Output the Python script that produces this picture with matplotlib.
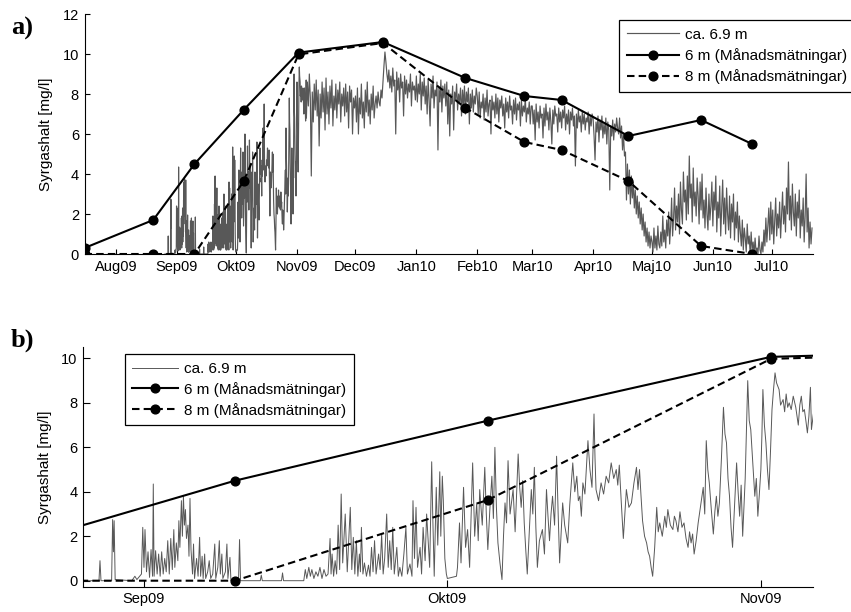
import numpy as np
import matplotlib
matplotlib.use("Agg")
import matplotlib.pyplot as plt
import matplotlib.dates as mdates

plt.rcParams['font.family'] = ['Liberation Sans', 'DejaVu Sans']

# ---- monthly profile samples (6 m and 8 m depth) ----
meas_dates = ['2009-07-16', '2009-08-20', '2009-09-10', '2009-10-05', '2009-11-02',
              '2009-12-15', '2010-01-26', '2010-02-25', '2010-03-16', '2010-04-19',
              '2010-05-26', '2010-06-21']
o2_6m = [0.3, 1.7, 4.5, 7.2, 10.07, 10.6, 8.8, 7.9, 7.7, 5.9, 6.7, 5.5]
o2_8m = [0.0, 0.0, 0.0, 3.63, 9.98, 10.55, 7.3, 5.6, 5.2, 3.65, 0.4, 0.0]

# ---- logger at ca. 6.9 m, irregular samples, days since 2009-09-01 ----
t_aug_sep = [
    -6.0, -4.45, -4.35, -4.25, -3.2, -3.1, -3.02, -2.95, -2.85, -1.2,
    -0.9, -0.7, -0.25, -0.12, 0.0, 0.1, 0.25, 0.4, 0.55, 0.7,
    0.85, 0.92, 1.0, 1.15, 1.3, 1.45, 1.6, 1.75, 1.9, 2.05,
    2.2, 2.35, 2.5, 2.65, 2.8, 2.95, 3.05, 3.2, 3.35, 3.45,
    3.55, 3.7, 3.8, 3.9, 4.0, 4.1, 4.2, 4.35, 4.45, 4.55,
    4.65, 4.8, 4.9, 5.0, 5.2, 5.35, 5.5, 5.6, 5.75, 5.85,
    6.0, 6.1, 6.3, 6.45, 6.6, 6.8, 7.0, 7.1, 7.3, 7.45,
    7.55, 7.7, 7.8, 8.05, 8.2, 8.3, 8.5, 8.6, 9.35, 9.45,
    9.55, 11.5, 11.6, 11.7, 13.6, 13.7, 13.8, 15.8, 15.95, 16.1,
    16.3, 16.45, 16.6, 16.8, 17.0, 17.2, 17.4, 17.6, 17.8, 18.0,
    18.2, 18.4, 18.5, 18.6, 18.75, 18.9, 19.05, 19.2, 19.35, 19.5,
    19.65, 19.9, 20.0, 20.1, 20.4, 20.55, 20.7, 20.85, 21.0, 21.15,
    21.3, 21.4, 21.5, 21.65, 21.8, 22.0, 22.2, 22.35, 22.5, 22.65,
    22.8, 22.95, 23.2, 23.35, 23.5, 23.65, 23.8, 24.0, 24.15, 24.3,
    24.45, 24.6, 24.75, 25.0, 25.15, 25.3, 25.5, 25.7, 25.9, 26.05,
    26.3, 26.5, 26.6, 26.75, 26.9, 27.05, 27.3, 27.45, 27.6, 27.8,
    27.95, 28.1, 28.25, 28.45, 28.55, 28.7, 28.9, 29.05, 29.25, 29.35,
    29.5, 29.6, 29.75, 29.9]
o2_aug_sep = [
    0.0, 0.0, 0.9, 0.0, 0.0, 2.75, 1.3, 2.7, 0.05, 0.0,
    0.2, 0.05, 0.3, 2.4, 0.6, 2.3, 0.4, 1.3, 0.15, 1.4,
    0.2, 4.35, 0.2, 1.35, 0.3, 1.2, 0.2, 1.3, 0.3, 1.0,
    0.4, 1.8, 0.3, 1.9, 0.5, 2.3, 0.6, 1.7, 0.9, 2.7,
    1.5, 3.6, 2.0, 3.8, 2.5, 3.2, 1.9, 2.5, 1.1, 3.7,
    1.4, 0.3, 1.65, 0.1, 1.0, 0.2, 1.95, 0.2, 1.1, 0.1,
    1.2, 0.1, 0.4, 0.9, 0.1, 0.3, 1.65, 0.1, 0.6, 1.8,
    0.3, 1.2, 0.1, 0.4, 1.65, 0.1, 1.05, 0.0, 0.0, 1.85,
    0.0, 0.0, 0.25, 0.0, 0.0, 0.35, 0.0, 0.0, 0.5, 0.1,
    0.6, 0.2, 0.5, 0.1, 0.4, 0.2, 0.6, 0.1, 0.5, 0.2,
    0.3, 1.9, 0.3, 1.2, 0.2, 0.9, 0.3, 2.5, 0.5, 3.9,
    0.8, 3.0, 1.65, 0.4, 3.3, 0.5, 1.95, 0.3, 1.8, 0.2,
    1.2, 0.4, 2.4, 0.3, 0.8, 0.2, 0.7, 0.2, 1.5, 0.4,
    1.8, 0.3, 1.2, 0.5, 2.1, 0.3, 1.0, 3.0, 0.6, 1.8,
    0.5, 2.4, 0.3, 1.5, 0.2, 0.6, 0.2, 1.2, 2.4, 0.3,
    0.75, 0.2, 3.6, 1.0, 3.3, 0.6, 1.5, 0.3, 2.4, 0.9,
    3.0, 1.8, 0.6, 5.35, 3.0, 0.2, 4.2, 1.6, 4.9, 2.0,
    4.7, 3.6, 1.0, 0.3]

t_okt_nov = [
    30.0, 30.9, 31.0, 31.2, 31.35, 31.6, 31.8, 32.0, 32.2, 32.5,
    32.7, 32.9, 33.05, 33.2, 33.45, 33.7, 33.85, 34.0, 34.2, 34.4,
    34.55, 34.7, 34.85, 35.0, 35.2, 35.4, 35.55, 35.7, 35.85, 36.0,
    36.2, 36.5, 36.7, 37.0, 37.15, 37.3, 37.45, 37.6, 37.75, 37.9,
    38.1, 38.3, 38.45, 38.6, 38.75, 38.9, 39.1, 39.4, 39.6, 39.8,
    39.95, 40.1, 40.25, 40.4, 40.6, 40.8, 40.95, 41.1, 41.25, 41.4,
    41.6, 41.9, 42.1, 42.4, 42.6, 42.8, 42.95, 43.1, 43.25, 43.4,
    43.6, 43.9, 44.1, 44.3, 44.5, 44.6, 44.7, 44.95, 45.2, 45.45,
    45.7, 45.95, 46.2, 46.45, 46.7, 46.85, 47.0, 47.2, 47.4, 47.55,
    47.7, 47.95, 48.2, 48.45, 48.7, 48.85, 49.0, 49.15, 49.3, 49.5,
    49.7, 49.85, 50.0, 50.15, 50.3, 50.5, 50.7, 50.85, 51.0, 51.25,
    51.5, 51.65, 51.8, 52.05, 52.3, 52.45, 52.6, 52.8, 53.0, 53.2,
    53.4, 53.6, 53.8, 53.95, 54.1, 54.25, 54.4, 54.6, 54.8, 55.05,
    55.3, 55.45, 55.6, 55.75, 55.9, 56.1, 56.3, 56.45, 56.6, 56.75,
    56.9, 57.1, 57.3, 57.45, 57.6, 57.75, 57.9, 58.05, 58.2, 58.4,
    58.6, 58.75, 58.9, 59.05, 59.2, 59.45, 59.7, 59.85, 60.0, 60.2,
    60.4, 60.55, 60.7, 60.85, 61.0, 61.1, 61.2, 61.35, 61.5, 61.65,
    61.8, 61.95, 62.1, 62.25, 62.4, 62.55, 62.8, 62.95, 63.2, 63.35,
    63.5, 63.65, 63.8, 64.0, 64.2, 64.45, 64.7, 64.85, 65.0, 65.15,
    65.3, 65.45, 65.6, 65.75, 65.9, 66.0]
o2_okt_nov = [
    0.1, 0.2, 0.6, 2.6, 0.8, 4.2, 1.5, 2.3, 0.6, 5.3,
    2.0, 3.5, 1.8, 4.1, 2.5, 5.1, 3.0, 1.4, 3.2, 4.7,
    2.8, 6.0, 3.3, 1.7, 0.8, 0.05, 2.0, 3.5, 2.6, 5.4,
    3.0, 4.1, 2.2, 5.7, 4.2, 3.3, 4.5, 2.6, 1.4, 0.3,
    2.2, 4.1, 3.0, 5.1, 2.4, 0.6, 1.8, 2.3, 1.2, 4.1,
    2.9, 1.8, 3.0, 3.8, 2.5, 5.6, 3.1, 0.8, 2.2, 3.5,
    2.5, 1.7, 3.4, 5.3, 4.0, 4.7, 3.6, 3.8, 2.9, 4.4,
    3.9, 6.3, 5.0, 4.2, 7.5, 5.5, 4.1, 3.6, 4.4, 3.9,
    4.7, 4.4, 5.3, 4.6, 5.0, 4.3, 5.2, 3.5, 1.9, 3.0,
    4.1, 3.3, 3.5, 4.4, 5.1, 4.1, 5.0, 3.8, 2.7, 2.0,
    1.7, 1.3, 1.1, 0.6, 0.2, 1.5, 3.3, 2.2, 2.6, 2.0,
    2.9, 2.4, 3.2, 2.5, 2.3, 2.9, 2.7, 2.2, 3.1, 2.4,
    2.6, 1.9, 1.5, 2.2, 1.7, 2.1, 1.2, 1.8, 2.6, 3.4,
    4.2, 3.0, 6.3, 5.0, 4.4, 3.2, 2.1, 3.1, 3.8, 2.9,
    3.5, 5.5, 7.8, 6.6, 6.2, 4.6, 3.8, 2.4, 1.5, 3.4,
    5.3, 4.0, 2.9, 4.3, 2.0, 4.6, 9.0, 7.2, 6.8, 5.3,
    3.8, 4.6, 2.9, 3.9, 5.0, 6.5, 8.6, 7.0, 6.2, 5.0,
    4.1, 5.8, 7.7, 8.6, 9.35, 8.9, 8.6, 7.9, 8.15, 7.6,
    8.4, 7.8, 8.0, 7.7, 8.3, 7.8, 7.0, 7.9, 8.3, 7.6,
    7.7, 7.2, 6.65, 7.4, 8.7, 6.8]

# ---- logger, twice-daily values from 2009-11-06 12:00 onwards ----
o2_nov = [8.6, 7.4, 9.0, 7.8, 3.9, 8.1, 6.6, 8.5, 7.2, 8.7, 6.9, 8.2, 5.4, 8.0, 6.8, 8.6,
          7.1, 8.3, 6.2, 8.8, 7.0, 8.1, 6.5, 8.4, 7.3, 8.7, 6.4, 7.9, 7.2, 8.5, 6.8, 8.2,
          7.5, 8.6, 6.6, 8.0, 7.4, 8.3, 6.9, 8.5, 7.1, 8.1, 6.3, 8.4, 7.6, 8.2, 6.0, 7.8, 7.3]
o2_dec = [7.9, 6.6, 8.3, 6.0, 7.8, 7.0, 8.5, 6.8, 7.6, 6.3, 8.2, 7.1, 8.6, 6.9, 7.7, 6.5,
          8.0, 7.2, 8.4, 6.8, 7.5, 7.9, 7.3, 8.1, 7.6, 7.4, 8.2, 7.8, 8.6, 9.4, 10.1, 9.6,
          9.0, 8.6, 9.2, 8.3, 8.9, 8.1, 9.3, 8.4, 8.7, 6.0, 9.1, 8.2, 8.8, 7.6, 9.0, 8.3,
          8.6, 6.9, 8.9, 8.0, 8.7, 7.8, 8.5, 8.1, 9.0, 7.4, 8.6, 8.2, 8.4, 7.7]
o2_jan = [8.9, 7.6, 8.5, 8.0, 9.0, 7.2, 8.6, 7.9, 8.8, 7.5, 8.4, 7.0, 8.7, 7.7, 6.4, 8.5,
          7.8, 8.9, 7.3, 8.2, 7.9, 8.6, 5.2, 8.3, 7.6, 8.7, 7.1, 8.4, 7.8, 8.5, 7.4, 8.6,
          6.5, 8.2, 5.9, 8.0, 7.5, 8.4, 6.2, 8.1, 7.7, 8.5, 7.2, 8.0, 7.6, 8.3, 6.9, 8.2,
          7.4, 8.4, 7.0, 8.1, 7.6, 8.3, 6.5, 8.0, 7.3, 8.2, 7.1, 7.9, 7.5, 8.3]
o2_feb = [7.9, 7.0, 8.1, 6.8, 7.6, 7.3, 8.0, 6.7, 7.8, 7.1, 8.2, 6.9, 7.5, 7.7, 6.0, 7.9,
          7.2, 7.6, 6.8, 8.0, 7.0, 7.8, 6.6, 7.7, 7.3, 7.9, 6.9, 7.5, 6.3, 7.8, 7.1, 7.6,
          6.8, 7.9, 7.2, 7.4, 6.5, 7.7, 7.0, 7.8, 6.7, 7.5, 7.2, 7.6, 6.4, 7.7, 6.9, 7.4,
          7.1, 7.8, 6.6, 7.3, 7.0, 7.6, 6.5, 7.4]
o2_mar = [7.4, 6.5, 7.2, 5.7, 7.5, 6.6, 7.1, 6.3, 7.4, 6.8, 7.0, 5.8, 7.3, 6.4, 7.5, 6.7,
          7.1, 6.2, 7.3, 6.6, 5.5, 7.2, 6.5, 7.4, 6.9, 7.0, 6.1, 7.3, 6.6, 7.1, 6.3, 7.2,
          6.8, 7.4, 6.2, 7.0, 6.5, 7.2, 6.0, 7.1, 6.7, 7.3, 6.4, 6.9, 4.4, 7.0, 6.3, 7.2,
          6.6, 6.9, 6.1, 7.1, 6.5, 7.0, 6.2, 6.8, 6.6, 7.1, 6.0, 6.9, 6.4, 7.0]
o2_apr = [6.8, 5.9, 4.7, 6.6, 6.1, 6.9, 5.6, 6.7, 6.2, 6.9, 5.8, 6.5, 6.0, 6.8, 5.5, 6.6,
          6.2, 3.2, 6.4, 5.9, 6.7, 5.7, 6.5, 6.1, 6.8, 6.3, 6.0, 6.8, 5.8, 6.4, 5.2, 6.0,
          4.9, 5.1, 2.7, 4.5, 3.0, 4.2, 2.5, 3.9, 2.8, 3.6, 2.3, 3.2, 2.0, 2.9, 1.8, 2.6,
          1.5, 2.3, 1.2, 2.0, 0.9, 1.6, 0.6, 1.3, 0.4, 1.1, 0.3, 0.9]
o2_may = [0.6, 0.1, 1.3, 0.3, 0.9, 0.2, 1.4, 0.5, 0.3, 1.1, 0.4, 1.9, 0.6, 1.2, 0.3, 1.7,
          0.9, 2.1, 0.5, 1.4, 2.8, 0.9, 1.8, 3.3, 1.2, 2.4, 1.6, 3.0, 1.0, 3.6, 2.2, 1.5,
          4.1, 2.6, 3.2, 1.7, 3.9, 2.0, 4.9, 2.8, 3.5, 1.6, 4.3, 2.4, 3.1, 1.9, 3.8, 2.9,
          1.5, 3.6, 2.2, 4.0, 1.8, 2.7, 1.3, 3.3, 2.0, 1.2, 3.0, 1.7, 2.4, 3.6]
o2_jun = [1.4, 3.1, 2.2, 3.9, 1.1, 2.6, 1.8, 3.4, 0.9, 2.3, 3.7, 1.5, 2.8, 1.0, 3.3, 2.0,
          1.2, 2.9, 0.8, 2.5, 1.6, 3.0, 0.7, 2.1, 1.3, 2.6, 0.6, 1.9, 1.1, 0.4, 1.7, 0.2,
          1.3, 0.8, 0.1, 1.5, 0.5, 0.9, 0.0, 1.1, 0.2, 0.6, 0.0, 0.8, 0.1, 0.3, 0.0, 0.9,
          0.2, 0.0, 0.6, 0.1, 1.2, 0.4, 1.8, 0.6, 1.4, 2.3, 0.7, 2.6]
o2_jul = [1.0, 2.2, 0.5, 1.7, 2.8, 0.9, 2.0, 1.3, 2.6, 0.8, 1.9, 3.1, 1.5, 2.4, 1.1, 3.3,
          2.0, 4.6, 1.7, 2.9, 1.2, 3.5, 2.1, 1.4, 3.0, 0.9, 2.6, 1.8, 3.2, 0.8, 2.2, 1.4,
          2.8, 0.6, 1.9, 4.0, 1.1, 2.3, 0.3, 1.6, 0.5, 1.3]

chunk_starts = ['2009-11-06T12:00', '2009-12-01T00:00', '2010-01-01T00:00', '2010-02-01T00:00',
                '2010-03-01T00:00', '2010-04-01T00:00', '2010-05-01T00:00', '2010-06-01T00:00',
                '2010-07-01T00:00']
chunk_values = [o2_nov, o2_dec, o2_jan, o2_feb, o2_mar, o2_apr, o2_may, o2_jun, o2_jul]

# ---- axis ticks ----
tick_a = ['2009-08-01', '2009-09-01', '2009-10-01', '2009-11-01', '2009-12-01', '2010-01-01',
          '2010-02-01', '2010-03-01', '2010-04-01', '2010-05-01', '2010-06-01', '2010-07-01']
tick_a_labels = ['Aug09', 'Sep09', 'Okt09', 'Nov09', 'Dec09', 'Jan10',
                 'Feb10', 'Mar10', 'Apr10', 'Maj10', 'Jun10', 'Jul10']
tick_b = ['2009-09-01', '2009-10-01', '2009-11-01']
tick_b_labels = ['Sep09', 'Okt09', 'Nov09']

labels = ['ca. 6.9 m', '6 m (Månadsmätningar)', '8 m (Månadsmätningar)']
ylabel = 'Syrgashalt [mg/l]'


def to_num(values):
    return mdates.date2num(np.array(values, dtype='datetime64[m]'))


# assemble the logger series
base = np.datetime64('2009-09-01T00:00')
early_t = np.concatenate([t_aug_sep, t_okt_nov])
early_v = np.concatenate([o2_aug_sep, o2_okt_nov])
early_time = base + np.round(early_t * 1440).astype(int).astype('timedelta64[m]')
times = [early_time]
vals = [early_v]
for start, v in zip(chunk_starts, chunk_values):
    times.append(np.datetime64(start) + np.arange(len(v)) * np.timedelta64(720, 'm'))
    vals.append(np.asarray(v, dtype=float))
log_x = mdates.date2num(np.concatenate(times))
log_y = np.concatenate(vals)

meas_x = to_num(meas_dates)

W, H = 851, 612
fig = plt.figure(figsize=(W / 100, H / 100), dpi=100)
ax_a = fig.add_axes([84.5 / W, 1 - 254 / H, (813 - 84.5) / W, (254 - 14) / H])
ax_b = fig.add_axes([83.3 / W, 1 - 586.7 / H, (812.7 - 83.3) / W, (586.7 - 347.3) / H])

gray = '#585858'
dash = (0, (3.6, 2.0))


def draw(ax, ticks, ticklabels, xlim, ylim, yticks, ticklen, legend_anchor, handlelen,
         series_lw, spacing):
    l0, = ax.plot(log_x, log_y, color=gray, lw=series_lw, zorder=2, label=labels[0])
    l1, = ax.plot(meas_x, o2_6m, '-o', color='black', lw=1.5, ms=6.3, zorder=4, label=labels[1])
    l2, = ax.plot(meas_x, o2_8m, 'o', color='black', ls=dash, lw=1.5, ms=6.3, zorder=3,
                  label=labels[2])
    ax.set_xlim(to_num(xlim))
    ax.set_ylim(*ylim)
    ax.set_xticks(to_num(ticks))
    ax.set_xticklabels(ticklabels)
    ax.set_yticks(yticks)
    ax.set_yticklabels([str(v) for v in yticks])
    for s in ('top', 'right'):
        ax.spines[s].set_visible(False)
    for s in ('left', 'bottom'):
        ax.spines[s].set_linewidth(0.8)
    ax.tick_params(direction='in', length=ticklen, width=0.8, labelsize=10.5, pad=4)
    ax.set_ylabel(ylabel, fontsize=11)
    ax.yaxis.set_label_coords(-0.043, 0.5)
    leg = ax.legend(handles=[l0, l1, l2], loc='upper left', bbox_to_anchor=legend_anchor,
                    bbox_transform=fig.transFigure, borderaxespad=0, fontsize=11,
                    handlelength=handlelen, handletextpad=0.4, borderpad=0.5,
                    labelspacing=spacing, fancybox=False, framealpha=1, edgecolor='black')
    leg.get_frame().set_linewidth(0.9)
    return ax


draw(ax_a, tick_a, tick_a_labels, ['2009-07-16', '2010-07-22'], (0, 12), list(range(0, 13, 2)),
     3.5, (619 / W, 1 - 20 / H), 3.4, 0.85, 0.42)
draw(ax_b, tick_b, tick_b_labels, ['2009-08-26', '2009-11-06T03:00'], (-0.27, 10.5),
     list(range(0, 11, 2)), 5, (124.7 / W, 1 - 354.3 / H), 3.0, 0.7, 0.38)

fig.text(11 / W, 1 - 28 / H, 'a)', fontsize=19, fontweight='bold', family='Liberation Serif',
         ha='left', va='center')
fig.text(11 / W, 1 - 340 / H, 'b)', fontsize=19, fontweight='bold', family='Liberation Serif',
         ha='left', va='center')

fig.savefig('out.png', dpi=100)
